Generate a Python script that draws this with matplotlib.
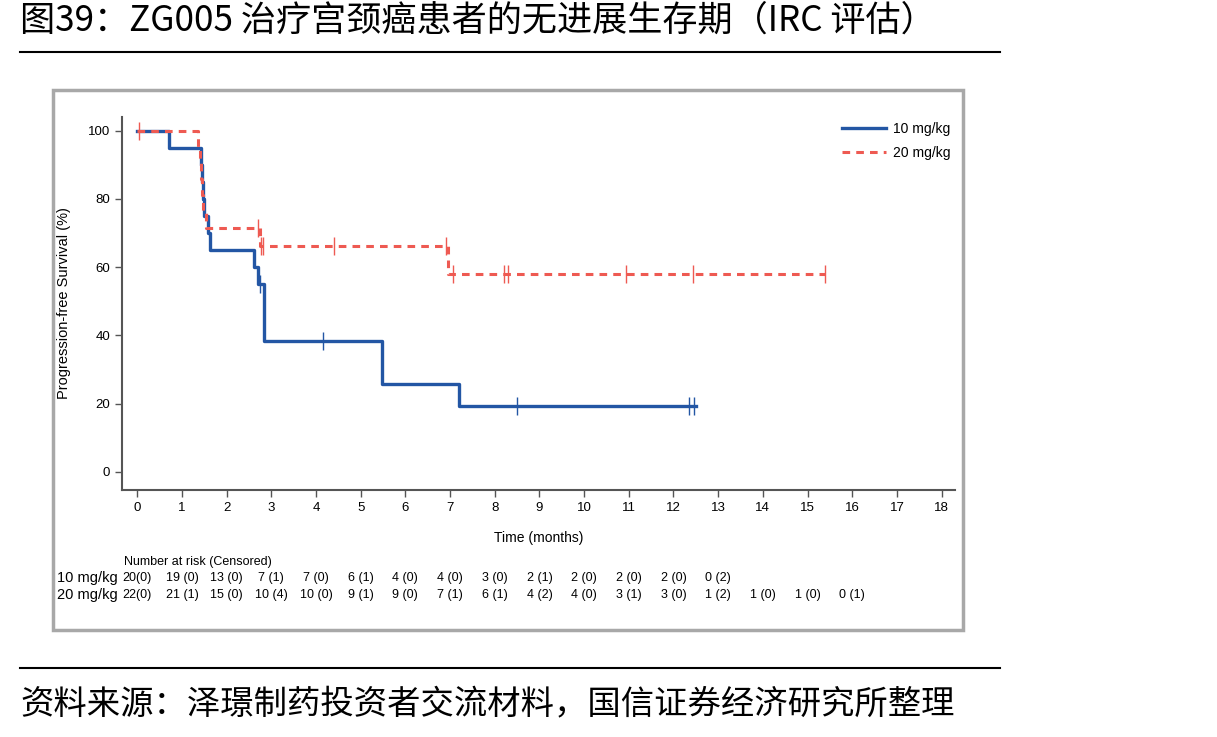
import matplotlib
matplotlib.use("Agg")
import matplotlib.pyplot as plt
from matplotlib.patches import Rectangle
from matplotlib.lines import Line2D

# 数据
t_10 = [0, 0.72, 1.43, 1.45, 1.47, 1.50, 1.59, 1.63, 2.62, 2.70, 2.83, 5.47, 7.20, 12.5]
s_10 = [100, 95, 90, 85, 80, 75, 70, 65, 60, 55, 38.5, 25.7, 19.2, 19.2]
cens_t_10 = [2.74, 4.15, 8.49, 12.35, 12.45]
cens_s_10 = [55, 38.5, 19.2, 19.2, 19.2]

t_20 = [0, 1.37, 1.40, 1.42, 1.44, 1.47, 1.54, 2.75, 6.96, 15.4]
s_20 = [100, 95.2, 90.5, 85.7, 81.0, 76.2, 71.4, 66.3, 58.0, 58.0]
cens_t_20 = [0.05, 2.71, 2.78, 2.82, 4.41, 6.90, 7.07, 8.20, 8.29, 10.94, 12.43, 15.39]
cens_s_20 = [100, 71.4, 66.3, 66.3, 66.3, 66.3, 58, 58, 58, 58, 58, 58]

risk_10 = ["20(0)", "19 (0)", "13 (0)", "7 (1)", "7 (0)", "6 (1)", "4 (0)", "4 (0)",
           "3 (0)", "2 (1)", "2 (0)", "2 (0)", "2 (0)", "0 (2)"]
risk_20 = ["22(0)", "21 (1)", "15 (0)", "10 (4)", "10 (0)", "9 (1)", "9 (0)", "7 (1)",
           "6 (1)", "4 (2)", "4 (0)", "3 (1)", "3 (0)", "1 (2)", "1 (0)", "1 (0)", "0 (1)"]

x_ticks = list(range(0, 19))
y_ticks = [0, 20, 40, 60, 80, 100]

title = "图39：ZG005 治疗宫颈癌患者的无进展生存期（IRC 评估）"
source = "资料来源：泽璟制药投资者交流材料，国信证券经济研究所整理"

BLUE = "#2356a4"
RED = "#ee5a52"
cjk = ["Noto Sans CJK SC", "DejaVu Sans"]
narrow = ["Liberation Sans Narrow", "Liberation Sans", "DejaVu Sans"]

W, H = 1217, 737
fig = plt.figure(figsize=(W / 100, H / 100), dpi=100)

# 标题与来源
fig.text(20 / W, 1 - 21 / H, title, family=cjk, fontsize=25.3, va="center", ha="left")
fig.add_artist(Line2D([20 / W, 1000 / W], [1 - 52 / H, 1 - 52 / H], color="black", lw=1.5))
fig.add_artist(Line2D([20 / W, 1000 / W], [1 - 668 / H, 1 - 668 / H], color="black", lw=1.5))
fig.text(20 / W, 1 - 704 / H, source, family=cjk, fontsize=24, va="center", ha="left")

# 灰色外框
fig.add_artist(Rectangle((53 / W, 1 - 630 / H), 910 / W, 540 / H, transform=fig.transFigure,
                         fill=False, edgecolor="#a8a8a8", lw=2.5))

ax_h = 373
ax = fig.add_axes([122 / W, 1 - 490 / H, 833 / W, ax_h / H])
ax.step(t_10, s_10, where="post", color=BLUE, lw=2.4, label="10 mg/kg")
ax.step(t_20, s_20, where="post", color=RED, lw=2.2, ls=(0, (2.5, 2)), label="20 mg/kg")
ax.plot(cens_t_10, cens_s_10, ls="none", marker="|", ms=13, mew=1, color=BLUE)
ax.plot(cens_t_20, cens_s_20, ls="none", marker="|", ms=13, mew=1, color=RED)

ax.set_xlim(-0.34, 18.3)
ax.set_ylim(-5.3, 104)
ax.set_xticks(x_ticks)
ax.set_yticks(y_ticks)
for s in ["top", "right"]:
    ax.spines[s].set_visible(False)
for s in ["left", "bottom"]:
    ax.spines[s].set_color("#555555")
    ax.spines[s].set_linewidth(1.5)
ax.tick_params(length=5, width=1, color="#555555", labelsize=9.5)
for lab in ax.get_xticklabels() + ax.get_yticklabels():
    lab.set_family(narrow)
ax.set_xlabel("Time (months)", family=narrow, fontsize=10)
ax.set_ylabel("Progression-free Survival (%)", family=narrow, fontsize=10.5)
ax.yaxis.set_label_coords((71 - 122) / 833, 0.5)
ax.xaxis.set_label_coords(0.5, (490 - 531) / ax_h)

leg = ax.legend(loc="upper right", frameon=False, prop={"family": narrow, "size": 10},
                handlelength=3.2, handletextpad=0.5, labelspacing=0.7,
                bbox_to_anchor=(1.01, 1.02))

# 风险表
tr = ax.get_xaxis_transform()
fig.text(124 / W, 1 - 562 / H, "Number at risk (Censored)", family=narrow, fontsize=9,
         va="center", ha="left")
for name, vals, ypx in [("10 mg/kg", risk_10, 578), ("20 mg/kg", risk_20, 595)]:
    fig.text(118 / W, 1 - ypx / H, name, family=narrow, fontsize=10.5, va="center", ha="right")
    yax = (490 - ypx) / ax_h
    for i, v in enumerate(vals):
        ax.text(x_ticks[i], yax, v, transform=tr, family=narrow, fontsize=9,
                va="center", ha="center", clip_on=False)

fig.savefig("out.png", dpi=100)
